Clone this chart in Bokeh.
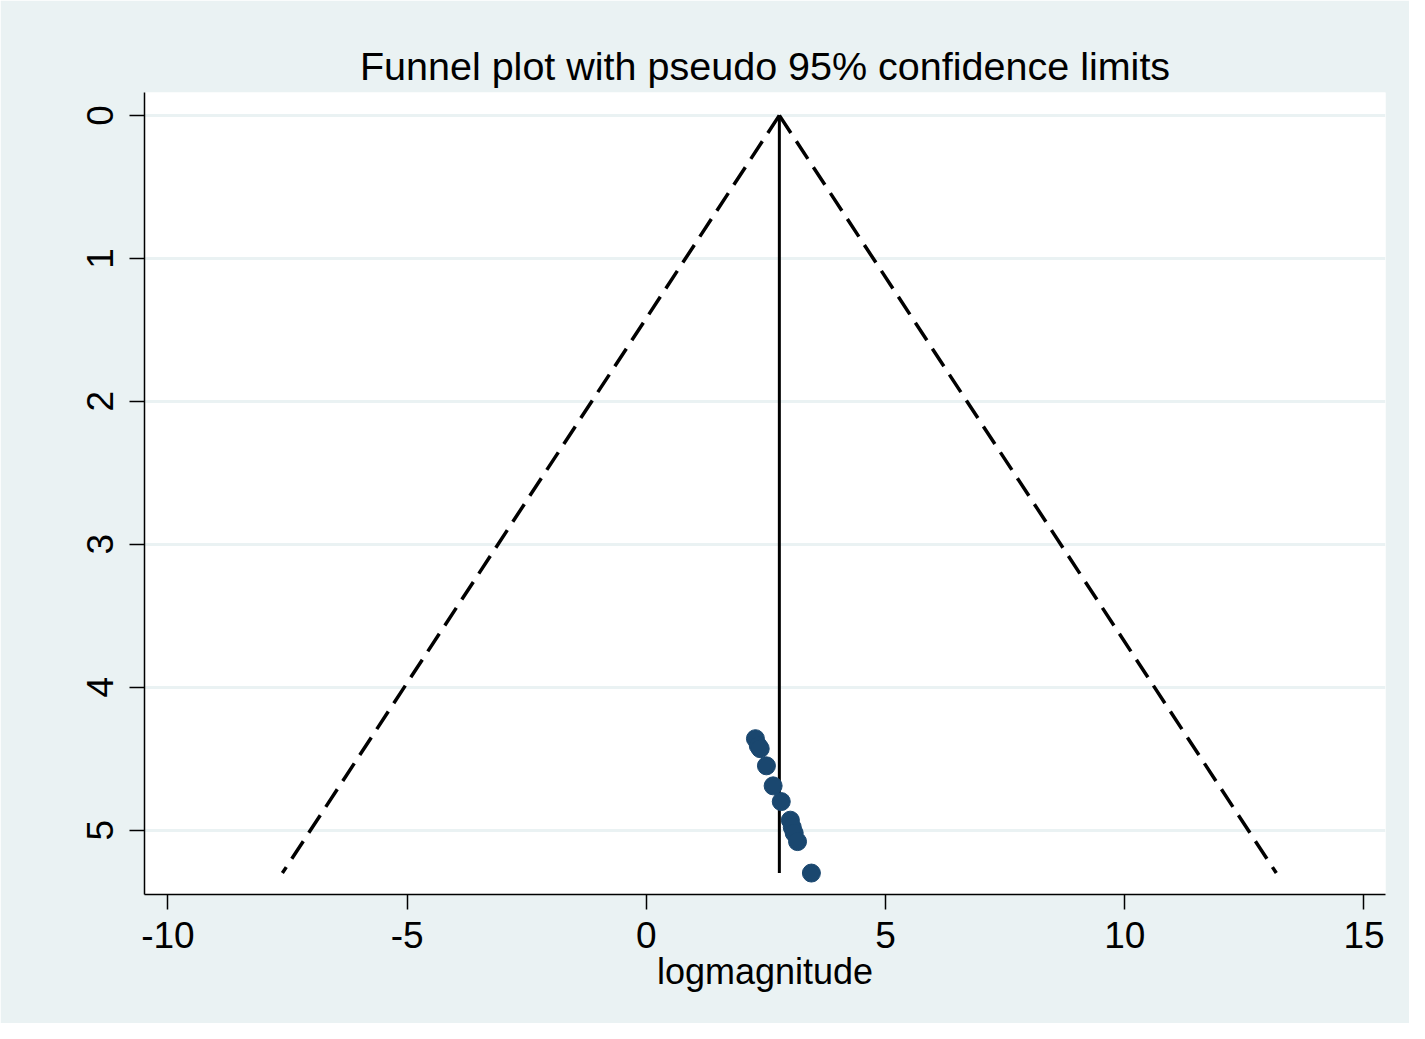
from bokeh.plotting import figure
from bokeh.models import Range1d, FixedTicker, ColumnDataSource
from bokeh.embed import file_html
from bokeh.resources import INLINE

# Data
logmagnitude = [2.28, 2.34, 2.38, 2.51, 2.65, 2.82, 3.01, 3.05, 3.09, 3.16, 3.45]
se_logmag = [4.36, 4.41, 4.43, 4.55, 4.69, 4.80, 4.93, 4.98, 5.02, 5.08, 5.30]
pooled_estimate = 2.78
z95 = 1.96
x_ticks = [-10, -5, 0, 5, 10, 15]
x_tick_labels = ["-10", "-5", "0", "5", "10", "15"]
y_ticks = [0, 1, 2, 3, 4, 5]

BG = "#EAF2F3"
NAVY = "#1A476F"
FONT = "Liberation Sans"

p = figure(width=1409, height=1023, output_backend="svg", toolbar_location=None,
           x_range=Range1d(-10.49, 15.45), y_range=Range1d(5.45, -0.16),
           min_border_left=144, min_border_right=24, min_border_top=92, min_border_bottom=129)
p.background_fill_color = "white"
p.border_fill_color = BG
p.outline_line_color = None

p.title.text = "Funnel plot with pseudo 95% confidence limits"
p.title.align = "center"
p.title.text_font = FONT
p.title.text_font_size = "39.5px"
p.title.text_font_style = "normal"
p.title.text_color = "black"
p.title.offset = 0

# funnel limits
se_max = max(se_logmag)
p.line([pooled_estimate, pooled_estimate - z95 * se_max], [0, se_max],
       line_color="black", line_width=3.5, line_dash="21 10")
p.line([pooled_estimate, pooled_estimate + z95 * se_max], [0, se_max],
       line_color="black", line_width=3.5, line_dash="21 10")
p.line([pooled_estimate, pooled_estimate], [0, se_max], line_color="black", line_width=3)

src = ColumnDataSource(dict(x=logmagnitude, y=se_logmag))
p.scatter("x", "y", source=src, size=18, fill_color=NAVY, line_color=NAVY)

# axes
for ax in (p.xaxis[0], p.yaxis[0]):
    ax.axis_line_color = "black"
    ax.axis_line_width = 1.5
    ax.major_tick_line_color = "black"
    ax.major_tick_line_width = 1.5
    ax.major_tick_in = 0
    ax.major_tick_out = 15
    ax.minor_tick_line_color = None
    ax.major_label_text_font = FONT
    ax.major_label_text_font_size = "37px"
    ax.major_label_text_color = "black"

p.xaxis.ticker = FixedTicker(ticks=x_ticks)
p.xaxis.major_label_overrides = {t: s for t, s in zip(x_ticks, x_tick_labels)}
p.yaxis.ticker = FixedTicker(ticks=y_ticks)
p.yaxis.major_label_orientation = "vertical"
p.xaxis.major_label_standoff = 12
p.yaxis.major_label_standoff = 16

p.xaxis.axis_label = "logmagnitude"
p.xaxis.axis_label_text_font = FONT
p.xaxis.axis_label_text_font_size = "36px"
p.xaxis.axis_label_text_font_style = "normal"
p.xaxis.axis_label_text_color = "black"
p.xaxis.axis_label_standoff = 0

p.xgrid.grid_line_color = None
p.ygrid.grid_line_color = BG
p.ygrid.grid_line_width = 3

open("out.html", "w").write(file_html(p, INLINE))
